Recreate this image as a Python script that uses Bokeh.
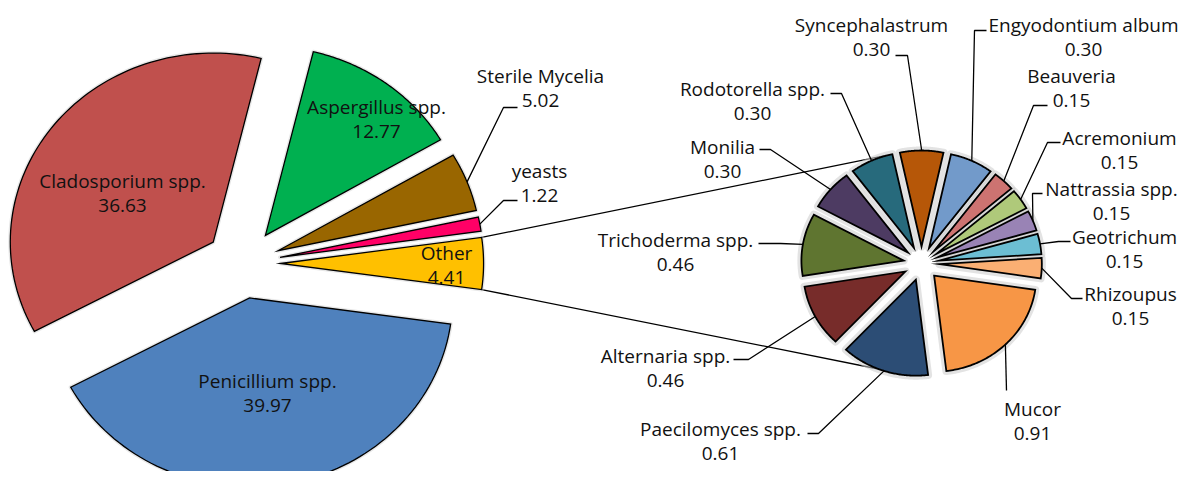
import numpy as np
from bokeh.plotting import figure
from bokeh.models import ColumnDataSource, Range1d
from bokeh.core.properties import value
from bokeh.embed import file_html
from bokeh.resources import INLINE

# ---------------- data ----------------
# main pie, listed clockwise starting at the lower edge of "Other"
main_names = ["Penicillium spp.", "Cladosporium spp.", "Aspergillus spp.",
              "Sterile Mycelia", "yeasts", "Other"]
main_values = [39.97, 36.63, 12.77, 5.02, 1.22, 4.41]
main_colors = ["#4F81BD", "#C0504D", "#00B050", "#996600", "#FF0066", "#FFC000"]

# secondary pie (breakdown of "Other"), clockwise starting at Mucor
sec_names = ["Mucor", "Paecilomyces spp.", "Alternaria spp.", "Trichoderma spp.",
             "Monilia", "Rodotorella spp.", "Syncephalastrum", "Engyodontium album",
             "Beauveria", "Acremonium", "Nattrassia spp.", "Geotrichum", "Rhizoupus"]
sec_values = [0.91, 0.61, 0.46, 0.46, 0.30, 0.30, 0.30, 0.30, 0.15, 0.15, 0.15, 0.15, 0.15]
sec_colors = ["#F79646", "#2C4D75", "#772C2A", "#5F7530", "#4D3B62", "#276A7C",
              "#B65708", "#729ACA", "#CD7371", "#AFC97A", "#9983B5", "#6CBED3", "#FAAF73"]

# ---------------- layout ----------------
FONT = value("Open Sans")
FS = "19px"
LINE_GAP = 25

MAIN = dict(cx=242.5, cy=263.0, r=189.0, sx=1.074, d=35.0)
SEC = dict(cx=921.0, cy=263.0, r=96.0, sx=1.065, d=17.0)

main_start = -0.5 * main_values[-1] / sum(main_values) * 360.0
sec_start = -8.5

# label centers (first line), per slice in the same order as the data
main_lab_x = [267, 122, 376, 540, 539, 446]
main_lab_y = [380, 180, 106, 75, 170, 252]
# leader anchors (text-side x, y, elbow x); None = label inside slice
main_anchor = [None, None, None, (517, 107, 503), (517, 200, 503), None]

sec_lab_x = [1032, 720, 665, 675, 722, 752, 871, 1083, 1071, 1119, 1111, 1124, 1130]
sec_lab_y = [408, 428, 355, 239, 146, 88, 24, 24, 75, 137, 188, 236, 293]
sec_anchor = [(1006, 390, 1006), (807, 433, 818), (733, 359, 748), (758, 243, 780),
              (759, 149, 770), (830, 93, 841), (895, 55, 907), (986, 30, 974),
              (1047, 105, 1033), (1060, 142, 1047), (1042, 193, 1032),
              (1070, 241, 1058), (1082, 298, 1071)]


def build(values, start, cx, cy, r, sx, d):
    total = float(sum(values))
    cum = np.concatenate([[0.0], np.cumsum(values)]) / total * 360.0
    xs, ys, outer = [], [], []
    for i in range(len(values)):
        a1 = np.radians(start - cum[i])
        a2 = np.radians(start - cum[i + 1])
        mid = 0.5 * (a1 + a2)
        vx = cx + d * sx * np.cos(mid)
        vy = cy - d * np.sin(mid)
        t = np.linspace(a1, a2, 80)
        px = np.concatenate([[vx], vx + r * sx * np.cos(t)])
        py = np.concatenate([[vy], vy - r * np.sin(t)])
        xs.append(px.tolist())
        ys.append(py.tolist())
        outer.append((cx + (r + d) * sx * np.cos(mid), cy - (r + d) * np.sin(mid)))
    return xs, ys, outer, cum


W, H = 1179, 471
p = figure(width=W, height=H, x_range=Range1d(0, W), y_range=Range1d(H, 0),
           output_backend="svg", toolbar_location=None, min_border=0)
p.axis.visible = False
p.grid.visible = False
p.outline_line_color = None
p.background_fill_color = "white"

mxs, mys, mouter, mcum = build(main_values, main_start, **MAIN)
sxs, sys_, souter, scum = build(sec_values, sec_start, **SEC)

# connector lines from "Other" to the secondary pie
oth = len(main_values) - 1
a_top = np.radians(main_start - mcum[oth])
a_bot = np.radians(main_start - mcum[oth + 1])
ovx = MAIN["cx"] + MAIN["d"] * MAIN["sx"] * np.cos(0.5 * (a_top + a_bot))
ovy = MAIN["cy"] - MAIN["d"] * np.sin(0.5 * (a_top + a_bot))
R2 = SEC["r"] + SEC["d"]
conn_x, conn_y = [], []
for a_m, a_s in ((a_top, np.radians(107)), (a_bot, np.radians(249))):
    conn_x.append([ovx + MAIN["r"] * MAIN["sx"] * np.cos(a_m),
                   SEC["cx"] + R2 * SEC["sx"] * np.cos(a_s)])
    conn_y.append([ovy - MAIN["r"] * np.sin(a_m),
                   SEC["cy"] - R2 * np.sin(a_s)])
p.multi_line(conn_x, conn_y, line_color="black", line_width=1.3)

# main pie
p.patches(mxs, mys, fill_color=None, line_color="#d0d0d0", line_width=4, line_alpha=0.5,
          line_join="round")
p.patches("xs", "ys", source=ColumnDataSource(dict(xs=mxs, ys=mys, c=main_colors)),
          fill_color="c", line_color="black", line_width=1.3, line_join="miter")

# secondary pie with soft glow
p.patches(sxs, sys_, fill_color=None, line_color="#cccccc", line_width=8, line_alpha=0.55,
          line_join="round")
p.patches("xs", "ys", source=ColumnDataSource(dict(xs=sxs, ys=sys_, c=sec_colors)),
          fill_color="c", line_color="black", line_width=1.8, line_join="miter")

# leader lines
lx, ly = [], []
for anc, out in list(zip(main_anchor, mouter)) + list(zip(sec_anchor, souter)):
    if anc is None:
        continue
    ax, ay, ex = anc
    lx.append([ax, ex, out[0]])
    ly.append([ay, ay, out[1]])
p.multi_line(lx, ly, line_color="black", line_width=1.3)

# labels
names = main_names + sec_names
vals = ["%.2f" % v for v in main_values + sec_values]
labx = main_lab_x + sec_lab_x
laby = main_lab_y + sec_lab_y
p.text(x=labx, y=laby, text=names, text_font=FONT, text_font_size=FS,
       text_align="center", text_baseline="middle", text_color="#111111")
p.text(x=labx, y=[y + LINE_GAP for y in laby], text=vals, text_font=FONT, text_font_size=FS,
       text_align="center", text_baseline="middle", text_color="#111111")

open("out.html", "w").write(file_html(p, INLINE))
